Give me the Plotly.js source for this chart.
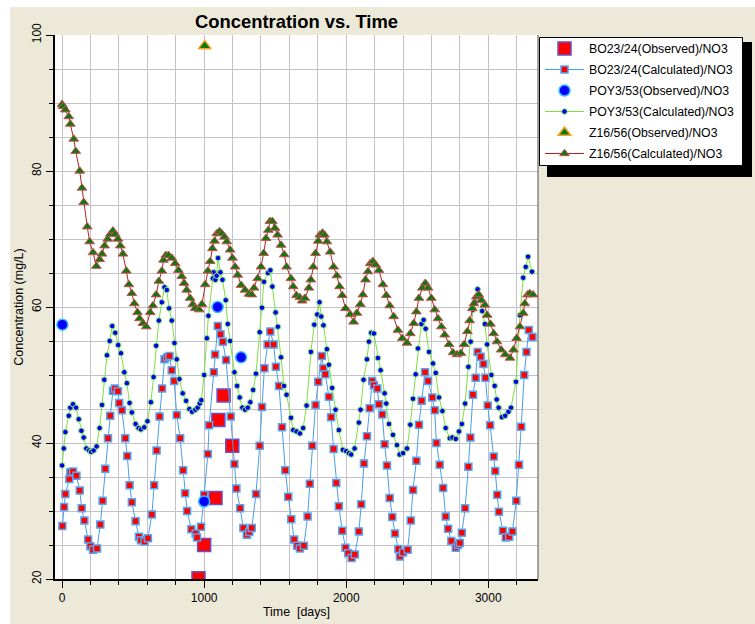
<!DOCTYPE html>
<html><head><meta charset="utf-8">
<script src="https://cdn.plot.ly/plotly-3.0.1.min.js"></script>
<style>html,body{margin:0;padding:0;background:#fff}#chart{width:755px;height:624px}</style>
</head><body><div id="chart"></div>
<script>
// ---- Data (time in days, concentration in mg/L) ----
const boObsT = [960, 1000, 1080, 1100, 1137, 1198];
const boObsV = [20.1, 25.0, 31.9, 43.4, 47.0, 39.6];

const boCalcT = [2,14,23,51,58,77,101,124,138,157,183,199,218,246,269,285,304,323,339,358,372,393,402,421,445,459,475,491,517,541,555,580,604,632,648,665,686,704,721,739,756,772,789,807,831,852,866,880,910,940,950,978,1000,1026,1035,1068,1077,1096,1115,1131,1154,1187,1213,1227,1253,1276,1300,1318,1335,1365,1391,1407,1424,1447,1466,1489,1505,1527,1548,1571,1592,1613,1634,1655,1674,1702,1728,1744,1761,1784,1803,1828,1839,1853,1878,1894,1911,1930,1948,1972,1995,2014,2038,2061,2089,2106,2125,2146,2165,2183,2195,2219,2230,2254,2270,2287,2306,2324,2343,2367,2378,2400,2432,2454,2470,2494,2512,2531,2555,2576,2606,2623,2635,2658,2682,2700,2717,2740,2771,2787,2800,2814,2837,2860,2874,2892,2911,2925,2946,2966,2980,2996,3013,3038,3049,3063,3075,3103,3123,3147,3170,3197,3216,3232,3253,3269,3285,3311];
const boCalcV = [27.8,30.6,32.5,34.7,35.7,35.8,35.2,33.0,30.4,28.6,25.8,24.8,24.3,24.5,28.0,31.5,36.2,40.7,44.0,47.7,48.0,47.6,45.9,44.8,40.7,38.1,33.8,31.3,28.5,26.2,25.7,25.5,26.0,29.5,33.8,38.9,43.9,48.0,52.3,52.6,52.8,50.7,49.1,44.1,40.7,36.0,32.6,30.0,27.3,26.7,26.1,27.7,32.4,38.4,42.6,50.4,53.0,57.2,56.0,54.9,52.2,43.9,36.9,33.3,30.4,27.5,26.5,26.9,27.5,32.5,39.6,45.3,51.0,54.5,56.4,54.5,51.2,48.4,42.3,36.0,32.1,28.8,25.8,24.9,24.5,24.9,29.2,34.0,39.6,45.6,49.0,52.8,51.0,50.1,46.8,43.8,39.1,34.1,30.7,27.1,24.6,23.8,23.1,23.6,27.0,31.0,37.0,41.0,45.1,49.1,48.5,48.0,45.7,44.2,39.8,36.7,31.9,29.1,26.7,24.4,23.3,23.9,24.3,28.6,33.1,37.4,42.7,46.2,50.4,49.1,46.7,44.8,40.0,36.8,33.4,29.2,27.4,25.6,24.6,25.0,25.3,26.8,30.4,36.5,40.8,47.1,49.6,53.4,52.7,51.6,49.6,45.5,42.6,38.0,35.9,32.4,29.9,27.1,26.1,26.2,27.0,31.5,36.8,42.4,50.0,53.4,56.6,55.6];

const poyObsT = [2, 1000, 1095, 1260];
const poyObsV = [57.4, 31.4, 60.0, 52.6];

const poyCalcT = [0,12,23,47,58,77,98,117,136,152,171,190,204,222,243,264,281,297,316,335,353,374,395,414,438,456,475,491,517,538,555,578,601,625,644,662,681,702,721,737,753,772,791,807,826,849,873,896,915,938,954,969,980,1000,1019,1030,1061,1067,1079,1088,1098,1114,1129,1152,1166,1183,1213,1232,1250,1269,1288,1307,1325,1345,1365,1391,1407,1421,1449,1466,1480,1503,1519,1541,1562,1580,1611,1627,1650,1674,1697,1721,1751,1775,1796,1812,1824,1840,1864,1878,1901,1925,1948,1976,2000,2019,2035,2059,2089,2101,2122,2146,2160,2176,2195,2223,2242,2270,2282,2301,2329,2357,2376,2400,2428,2451,2470,2489,2505,2529,2545,2559,2583,2611,2630,2653,2677,2700,2729,2747,2771,2794,2814,2837,2860,2876,2892,2906,2925,2957,2976,2992,3022,3045,3059,3073,3096,3119,3142,3160,3195,3223,3246,3264,3280,3308];
const poyCalcV = [36.7,39.2,41.6,44.0,45.2,45.7,45.2,43.5,41.8,40.8,39.2,38.9,38.7,38.9,39.5,42.2,45.6,49.3,52.9,55.0,57.2,56.2,54.4,53.2,50.4,48.8,45.9,44.5,42.8,42.2,42.0,42.3,43.2,46.0,49.7,54.3,58.0,60.7,62.9,62.5,59.8,58.0,54.7,52.3,49.4,47.3,46.2,45.0,44.6,44.9,45.2,45.8,46.3,50.0,55.4,58.7,64.2,65.1,64.0,64.6,67.2,65.1,64.0,61.0,57.5,55.0,50.4,48.4,46.7,45.2,44.9,45.2,46.0,47.8,50.2,56.3,59.9,63.7,65.0,65.4,63.0,59.2,57.1,52.6,48.4,47.1,43.7,41.9,41.7,41.4,42.2,45.5,53.4,57.4,58.9,60.7,58.6,57.3,53.8,51.5,48.1,44.9,41.9,39.0,38.8,38.5,38.3,39.2,43.0,44.9,49.3,52.3,54.9,56.2,56.1,52.5,50.7,47.3,45.8,42.8,41.2,39.7,38.3,38.5,39.2,42.7,46.5,50.1,53.9,57.5,58.1,56.8,53.4,51.7,50.3,46.7,44.7,42.2,40.7,40.8,40.6,41.7,42.8,45.8,51.2,54.9,59.6,60.7,62.6,59.4,57.5,54.5,50.0,48.4,46.4,45.2,43.8,44.0,44.6,45.2,49.0,58.8,64.3,65.9,67.4,65.2];

const zObsT = [1004];
const zObsV = [98.4];

const zCalcT = [0,7,23,47,58,82,96,124,140,152,177,194,218,241,264,281,299,321,339,358,374,393,410,428,452,470,491,508,531,545,569,592,620,639,662,681,702,714,730,749,772,796,819,842,859,877,901,920,937,965,984,1007,1026,1042,1058,1073,1089,1108,1124,1143,1159,1183,1199,1218,1236,1260,1288,1316,1335,1351,1377,1400,1419,1435,1452,1463,1480,1498,1517,1541,1564,1580,1611,1627,1650,1674,1690,1709,1737,1751,1768,1784,1803,1814,1833,1847,1864,1887,1911,1934,1953,1972,1995,2028,2052,2075,2099,2117,2136,2153,2169,2188,2207,2230,2258,2282,2306,2334,2364,2395,2428,2451,2475,2494,2512,2536,2557,2576,2599,2623,2646,2670,2693,2724,2752,2780,2807,2830,2853,2869,2888,2899,2916,2934,2952,2976,2992,3015,3038,3061,3091,3119,3153,3177,3200,3223,3246,3257,3276,3292,3315];
const zCalcV = [89.8,89.5,89.0,88.0,86.9,84.7,82.9,80.0,77.5,75.4,71.8,69.6,68.0,66.0,67.0,67.8,69.0,70.0,70.7,71.2,70.7,70.0,69.0,67.8,65.3,63.3,62.0,60.5,59.2,58.3,57.6,57.1,59.2,60.2,61.8,63.8,65.3,66.9,67.6,67.6,67.2,66.4,65.4,64.5,63.5,62.5,61.3,60.4,59.8,59.6,60.4,63.3,65.3,66.7,68.6,69.7,70.8,71.1,70.8,70.3,69.6,68.4,67.2,65.9,64.7,63.2,62.5,61.9,61.8,62.8,64.2,65.9,67.9,70.1,71.3,72.6,72.6,71.6,70.6,69.1,67.7,65.9,64.2,63.0,61.7,61.4,60.9,61.3,62.8,64.0,65.9,67.9,69.7,70.6,70.9,70.6,69.6,68.1,65.9,64.6,63.0,61.7,59.8,58.9,57.8,59.1,60.4,61.8,64.0,65.2,66.4,66.7,66.2,65.4,63.3,61.7,60.2,58.6,56.6,55.4,54.7,56.1,57.6,59.3,61.3,62.8,63.5,62.8,61.3,59.6,58.3,57.1,55.9,54.5,53.3,53.0,53.2,54.5,56.4,58.0,59.8,60.5,61.5,61.8,61.0,60.3,58.8,57.5,56.1,54.9,53.7,53.0,52.5,53.7,55.4,57.1,59.1,60.5,61.8,62.0,61.8];

const names = ['BO23/24(Observed)/NO3','BO23/24(Calculated)/NO3','POY3/53(Observed)/NO3','POY3/53(Calculated)/NO3','Z16/56(Observed)/NO3','Z16/56(Calculated)/NO3'];

// ---- Traces ----
const traces = [
  {x: boObsT, y: boObsV, name: names[0], mode: 'markers', legendgroup: 'g1',
   marker: {symbol: 'square', size: 13, color: '#ff0000', line: {color: '#6a50c8', width: 1.5}}},
  {x: boCalcT, y: boCalcV, name: names[1], mode: 'lines+markers', legendgroup: 'g2',
   line: {color: '#4a9ee8', width: 1},
   marker: {symbol: 'square', size: 7, color: '#ff0000', line: {color: '#52a8f5', width: 1.5}}},
  {x: poyObsT, y: poyObsV, name: names[2], mode: 'markers', legendgroup: 'g3',
   marker: {symbol: 'circle', size: 11, color: '#0000ff', line: {color: '#33bbff', width: 1.5}}},
  {x: poyCalcT, y: poyCalcV, name: names[3], mode: 'lines+markers', legendgroup: 'g4',
   line: {color: '#7ee040', width: 1},
   marker: {symbol: 'circle', size: 5.5, color: '#0000ee', line: {color: '#88ee66', width: 1}}},
  {x: zObsT, y: zObsV, name: names[4], mode: 'markers', legendgroup: 'g5',
   marker: {symbol: 'triangle-up', size: 11, color: '#0a7a0a', line: {color: '#ffa020', width: 1.5}}},
  {x: zCalcT, y: zCalcV, name: names[5], mode: 'lines+markers', legendgroup: 'g6',
   line: {color: '#b22222', width: 1},
   marker: {symbol: 'triangle-up', size: 8.5, color: '#117711', line: {color: '#c85050', width: 1}}}
];

const L = 55, R = 217, T = 35, B = 45, W = 755, H = 624;
const pw = W - L - R, ph = H - T - B;
const px = v => (v - L) / pw;
const py = v => (H - B - v) / ph;

const gridC = '#c4c2c8';
const layout = {
  width: W, height: H,
  margin: {l: L, r: R, t: T, b: B, pad: 0},
  paper_bgcolor: '#ece9d8',
  plot_bgcolor: '#ffffff',
  font: {family: 'Arial, "Liberation Sans", sans-serif', size: 12, color: '#000'},
  title: {text: '<b>Concentration vs. Time</b>', font: {size: 18.4, color: '#000'},
          x: 0.5, xref: 'paper', xanchor: 'center', y: 1 - 22 / H, yref: 'container', yanchor: 'middle'},
  showlegend: true,
  legend: {x: px(540), y: py(34), xanchor: 'left', yanchor: 'top',
           bgcolor: 'rgba(0,0,0,0)', borderwidth: 0,
           font: {size: 12.3, color: '#000'}, tracegroupgap: 2, traceorder: 'grouped',
           itemwidth: 39},
  xaxis: {range: [-50, 3350], tick0: 0, dtick: 1000, ticks: 'outside', ticklen: 7, tickcolor: '#000',
          showgrid: true, gridcolor: gridC, gridwidth: 1, zeroline: false,
          showline: true, linecolor: '#000', linewidth: 2,
          minor: {dtick: 200, tick0: 0, ticks: 'outside', ticklen: 4, tickcolor: '#000', showgrid: true, gridcolor: gridC},
          tickfont: {size: 12},
          title: {text: 'Time  [days]', font: {size: 12.4}, standoff: 3}},
  yaxis: {range: [20, 100], tick0: 20, dtick: 20, ticks: 'outside', ticklen: 7, tickcolor: '#000',
          tickangle: -90,
          showgrid: true, gridcolor: gridC, gridwidth: 1, zeroline: false,
          showline: true, linecolor: '#000', linewidth: 2,
          minor: {dtick: 5, tick0: 20, ticks: 'outside', ticklen: 4, tickcolor: '#000', showgrid: true, gridcolor: gridC},
          tickfont: {size: 12},
          title: {text: 'Concentration (mg/L)', font: {size: 12.5}, standoff: 4}},
  shapes: [
    {type: 'rect', xref: 'paper', yref: 'paper', x0: px(0), x1: px(10), y0: py(H), y1: py(0),
     fillcolor: '#ffffff', line: {width: 0}, layer: 'below'},
    {type: 'rect', xref: 'paper', yref: 'paper', x0: px(0), x1: px(W), y0: py(7), y1: py(0),
     fillcolor: '#ffffff', line: {width: 0}, layer: 'below'},
    // legend shadow
    {type: 'rect', xref: 'paper', yref: 'paper', x0: px(547), x1: px(752), y0: py(177), y1: py(42),
     fillcolor: '#000000', line: {width: 0}, layer: 'above'},
    // legend box
    {type: 'rect', xref: 'paper', yref: 'paper', x0: px(539.5), x1: px(742.5), y0: py(165.5), y1: py(37.5),
     fillcolor: '#ffffff', line: {color: '#000000', width: 1}, layer: 'above'},
    {type: 'line', xref: 'paper', yref: 'paper', x0: 1, x1: 1, y0: 0, y1: 1,
     line: {color: '#505050', width: 1}, layer: 'above'}
  ]
};

Plotly.newPlot('chart', traces, layout, {displayModeBar: false, staticPlot: true});
</script>
</body></html>
